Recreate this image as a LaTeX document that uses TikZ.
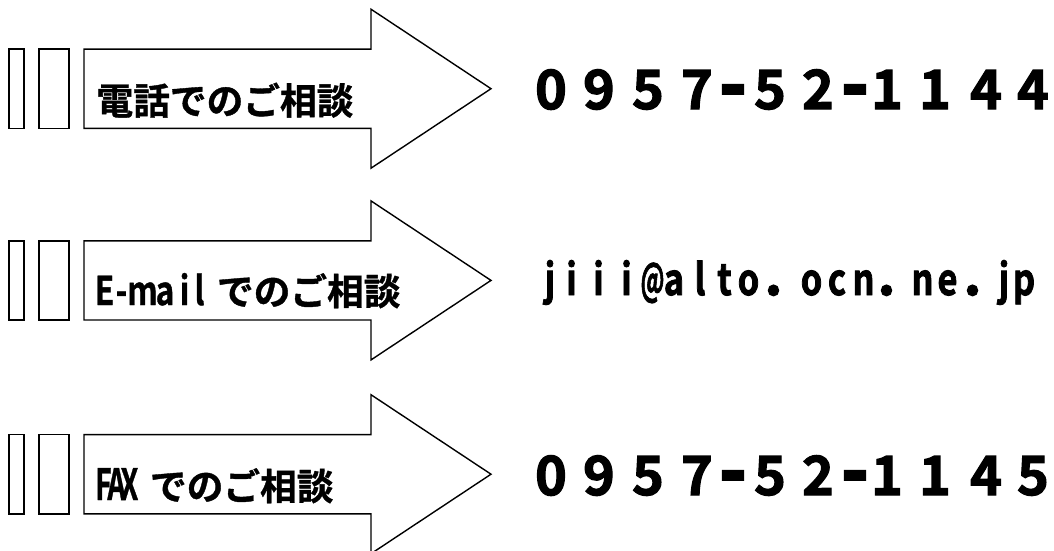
\documentclass[tikz,border=0pt]{standalone}
\usepackage{graphicx}
\usepackage{fontspec}
\newfontfamily\jp[FakeBold=1]{Noto Sans CJK JP Bold}
\newfontfamily\jpx[FakeBold=2.2]{Noto Sans CJK JP Bold}
\newcommand\cc[1]{\hbox to 0pt{\hss#1\hss}}
\newcommand\pc[2]{\kern#1pt\cc{#2}}
\newcommand\dsh{\raisebox{-5pt}{\scalebox{1.4}[1.6]{-}}}
\newcommand\nrw[1]{\scalebox{0.8}[1]{#1}}
\newcommand\nrwb[1]{\scalebox{0.66}[1]{#1}}
\newcommand\dt{\scalebox{1.3}{.}}
\tikzset{
  outl/.style={draw=black, line width=1.4pt, fill=white, line join=miter},
  lbl/.style={anchor=base west, inner sep=0pt, outer sep=0pt},
}
\begin{document}
\begin{tikzpicture}[x=1pt,y=-1pt]
\useasboundingbox (0,0) rectangle (1054,550);
\clip (0,0) rectangle (1054,550);
\fill[white] (0,0) rectangle (1054,550);
\foreach \c in {88.7,280.4,474.2}{
  \draw[outl] (9,{\c-39.6}) rectangle (24,{\c+39.6});
  \draw[outl] (39,{\c-39.6}) rectangle (69,{\c+39.6});
  \draw[outl] (84,{\c-39.6}) -- (371,{\c-39.6}) -- (371,{\c-79.5}) -- (491,\c)
     -- (371,{\c+79.5}) -- (371,{\c+39.6}) -- (84,{\c+39.6}) -- cycle;
}
\node[lbl, font=\jp\fontsize{36.7}{40}\selectfont] (t1) at (96.5,114.4) {電話でのご相談};
\node[lbl, font=\jp\fontsize{39.5}{40}\selectfont] (t2) at (96,305)
  {\pc{8.5}{\nrw{E}}\pc{17}{\nrw{-}}\pc{21}{\nrw{m}}\pc{22.5}{\nrw{a}}\pc{19.5}{\nrw{i}}\pc{15}{\nrw{l}}\kern17.5pt{\fontsize{36.7}{40}\selectfont でのご相談}};
\node[lbl, font=\jp\fontsize{43}{44}\selectfont] (t3) at (96,500)
  {\pc{7.5}{\nrwb{F}}\pc{13}{\nrwb{A}}\pc{13}{\nrwb{X}}\kern20.5pt{\fontsize{36.7}{40}\selectfont でのご相談}};
\node[lbl, font=\jpx\fontsize{54}{56}\selectfont] (p1) at (527,109)
  {\pc{24}{0}\pc{48}{9}\pc{49}{5}\pc{49}{7}\pc{36}{\dsh}\pc{37}{5}\pc{48}{2}\pc{37}{\dsh}\pc{32}{1}\pc{48}{1}\pc{51}{4}\pc{47}{4}\kern21pt};
\node[lbl, font=\jpx\fontsize{43}{44}\selectfont] (m2) at (527,295)
  {\pc{23}{\nrw{j}}\pc{21.5}{\nrw{i}}\pc{27}{\nrw{i}}\pc{28}{\nrw{i}}\pc{26}{\scalebox{0.55}[1]{@}}\pc{21.5}{\nrw{a}}\pc{26}{\nrw{l}}\pc{24.5}{\nrw{t}}\pc{24}{\nrw{o}}\pc{25}{\dt}\pc{38}{\nrw{o}}\pc{25.5}{\nrw{c}}\pc{26.5}{\nrw{n}}\pc{23}{\dt}\pc{36}{\nrw{n}}\pc{25}{\nrw{e}}\pc{25}{\dt}\pc{31.5}{\nrw{j}}\pc{20}{\nrw{p}}\kern30pt};
\node[lbl, font=\jpx\fontsize{54}{56}\selectfont] (p3) at (527,495)
  {\pc{24}{0}\pc{48}{9}\pc{49}{5}\pc{49}{7}\pc{36}{\dsh}\pc{37}{5}\pc{48}{2}\pc{37}{\dsh}\pc{32}{1}\pc{48}{1}\pc{51}{4}\pc{47}{5}\kern21pt};
\end{tikzpicture}
\end{document}
